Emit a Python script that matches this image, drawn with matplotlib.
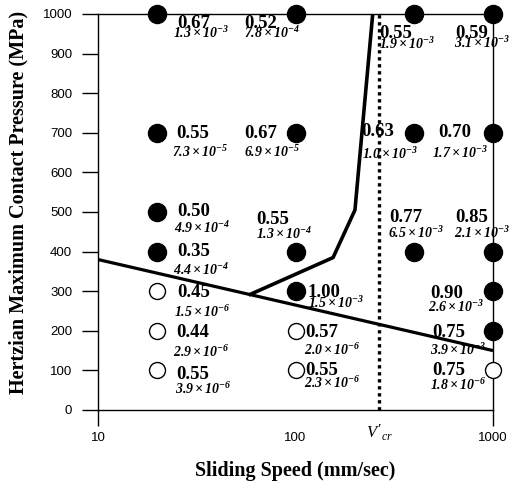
import numpy as np
import matplotlib.pyplot as plt

plt.rcParams['mathtext.fontset'] = 'custom'
plt.rcParams['mathtext.rm'] = 'Liberation Serif:bold:italic'
plt.rcParams['mathtext.it'] = 'Liberation Serif:italic'
plt.rcParams['mathtext.bf'] = 'Liberation Serif:bold'

# ===== DATA =====
speed = [20, 100, 400, 1000,
         20, 100, 400, 1000,
         20, 100, 20, 400, 1000,
         20, 100, 1000,
         20, 100, 1000,
         20, 100, 1000]
pressure = [1000, 1000, 1000, 1000,
            700, 700, 700, 700,
            500, 400, 400, 400, 400,
            300, 300, 300,
            200, 200, 200,
            100, 100, 100]
seized = [1, 1, 1, 1,
          1, 1, 1, 1,
          1, 1, 1, 1, 1,
          0, 1, 1,
          0, 0, 1,
          0, 0, 0]
friction = [0.67, 0.52, 0.55, 0.59,
            0.55, 0.67, 0.63, 0.70,
            0.50, 0.55, 0.35, 0.77, 0.85,
            0.45, 1.00, 0.90,
            0.44, 0.57, 0.75,
            0.55, 0.55, 0.75]
wear_mant = [1.3, 7.8, 1.9, 3.1,
             7.3, 6.9, 1.0, 1.7,
             4.9, 1.3, 4.4, 6.5, 2.1,
             1.5, 1.5, 2.6,
             2.9, 2.0, 3.9,
             3.9, 2.3, 1.8]
wear_exp = [-3, -4, -3, -3,
            -5, -5, -3, -3,
            -4, -4, -4, -3, -3,
            -6, -3, -3,
            -6, -6, -3,
            -6, -6, -6]

# transition boundaries
trans_speed = [10, 1000]
trans_press = [380, 150]
seize_speed = [59, 155, 200, 246]
seize_press = [292, 385, 505, 1000]
v_cr = 265

# label offsets in pixels: (friction dx, dy, wear dx, dy), dy downward
offsets = [(20, 9, 16, 19), (-51, 9, -51, 19), (-35, 19, -35, 30), (-38, 19, -39, 29),
           (19, 1, 15, 19), (-51, 1, -51, 19), (-53, -1, -52, 21), (-55, 0, -61, 20),
           (20, 0, 17, 16), (-39, -32, -39, -18), (20, 0, 16, 18), (-25, -34, -26, -19),
           (-38, -34, -39, -19),
           (20, 1, 17, 21), (12, 1, 12, 12), (-63, 2, -65, 16),
           (19, 2, 16, 21), (10, 2, 9, 19), (-61, 2, -63, 19),
           (19, 4, 18, 19), (10, 0, 9, 13), (-61, 0, -63, 15)]

# ===== SETUP PLOT =====
fig = plt.figure(figsize=(5.11, 4.88), dpi=100)
ax = fig.add_axes([98 / 511, 1 - 410 / 488, 395 / 511, 396 / 488])

ax.plot(trans_speed, trans_press, color='black', lw=2.3, solid_capstyle='butt')
ax.plot(seize_speed, seize_press, color='black', lw=2.6, solid_joinstyle='miter')
ax.plot([v_cr, v_cr], [0, 1000], color='black', lw=2.4, linestyle=(0, (1, 1.1)))

for i in range(len(speed)):
    if seized[i]:
        ax.plot(speed[i], pressure[i], 'o', ms=13, color='black', clip_on=False, zorder=5)
    else:
        ax.plot(speed[i], pressure[i], 'o', ms=11.5, mfc='white', mec='black', mew=1,
                clip_on=False, zorder=5)
    fdx, fdy, wdx, wdy = offsets[i]
    ax.annotate('%.2f' % friction[i], xy=(speed[i], pressure[i]), xytext=(fdx, -fdy),
                textcoords='offset pixels', ha='left', va='center',
                fontsize=13.5, fontweight='bold', family='Liberation Serif', zorder=6)
    ax.annotate(r'$%.1f\times10^{%d}$' % (wear_mant[i], wear_exp[i]),
                xy=(speed[i], pressure[i]), xytext=(wdx, -wdy),
                textcoords='offset pixels', ha='left', va='center', fontsize=10, zorder=6)

ax.set_xscale('log')
ax.set_xlim(10, 1000)
ax.set_ylim(0, 1000)
ax.set_xticks([10, 100, 1000])
ax.set_xticklabels(['10', '100', '1000'])
ax.xaxis.set_minor_locator(plt.NullLocator())
ax.set_yticks(np.arange(0, 1001, 100))
for lab in ax.get_xticklabels() + ax.get_yticklabels():
    lab.set_family('Liberation Sans')
    lab.set_fontsize(9.5)
ax.tick_params(axis='x', length=11.5, width=1, pad=4)
ax.tick_params(axis='y', length=11.5, width=1, pad=7)
ax.xaxis.get_major_ticks()[1].tick1line.set_visible(False)
for sp in ax.spines.values():
    sp.set_linewidth(1)

ax.text(v_cr, -0.058, r"$V'_{cr}$", transform=ax.get_xaxis_transform(),
        ha='center', va='center', fontsize=12)

ax.set_xlabel('Sliding Speed (mm/sec)', family='Liberation Serif', fontweight='bold',
              fontsize=14.5)
ax.xaxis.set_label_coords(0.5, -0.128)
ax.set_ylabel('Hertzian Maximum Contact Pressure (MPa)', family='Liberation Serif',
              fontweight='bold', fontsize=14.5)
ax.yaxis.set_label_coords(-0.177, 0.525)

fig.savefig('out.png', dpi=100)
